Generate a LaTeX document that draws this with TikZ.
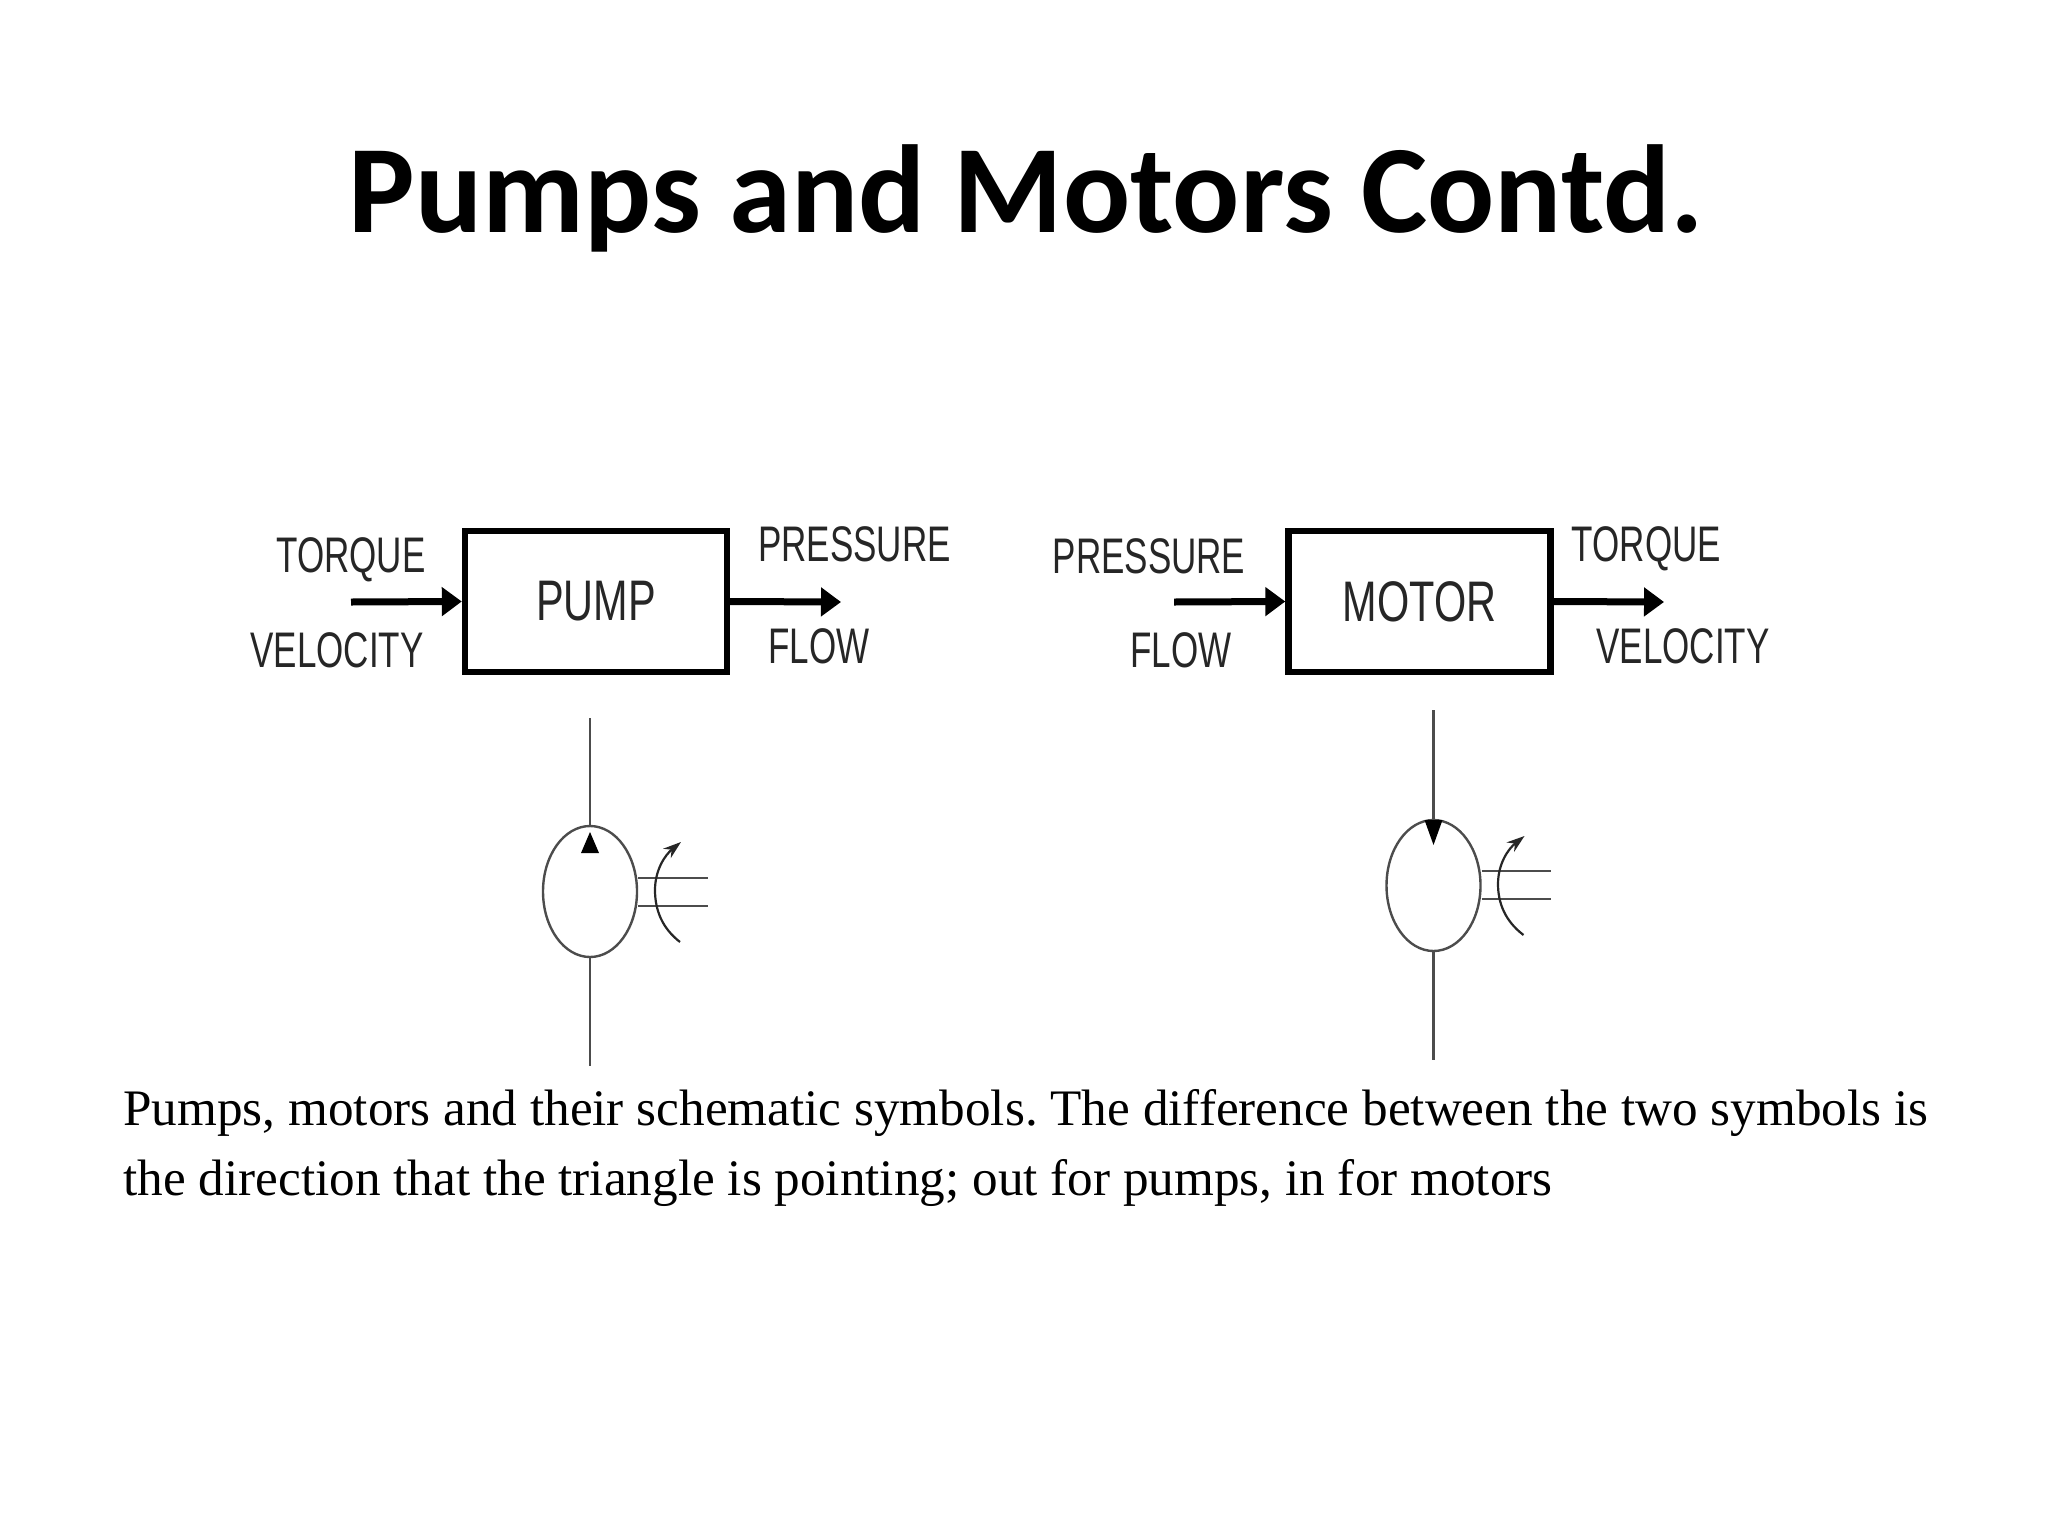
\documentclass[tikz,border=0pt]{standalone}
\usepackage{fontspec}
\usepackage{tikz}
\usetikzlibrary{arrows.meta, shapes.geometric}
\newfontfamily\titlefont{Carlito}
\newfontfamily\bodyfont{Liberation Serif}
\newfontfamily\blockfont[FakeStretch=0.725]{Liberation Sans}
\newfontfamily\labelfont[FakeStretch=0.7]{Liberation Sans}
\tikzset{
  blockbox/.style={draw, line width=3.2pt, minimum width=131pt, minimum height=70.5pt, inner sep=0pt,
    font=\blockfont\fontsize{28.6}{30}\selectfont, text=black!85},
  flowlabel/.style={anchor=base, inner sep=0pt, font=\labelfont\fontsize{25}{26}\selectfont, text=black!85},
  flowarrow/.style={line width=3.5pt, -{Triangle[length=10pt,width=14pt]}},
  symbody/.style={draw=black!70, line width=1.2pt, shape=ellipse, minimum width=47pt, minimum height=65.5pt, inner sep=0pt},
  symline/.style={draw=black!70, line width=1.2pt},
  sweep/.style={draw=black!85, line width=1.1pt, -{Stealth[length=9pt,width=6pt]}},
  bodyline/.style={anchor=base west, inner sep=0pt, font=\bodyfont\fontsize{25.6}{30}\selectfont}
}
\begin{document}
\frenchspacing
\begin{tikzpicture}[x=0.5pt,y=-0.5pt]
\useasboundingbox (0,0) rectangle (2048,1536);
% Title
\node[anchor=base, inner sep=0pt, font=\titlefont\bfseries\fontsize{62.6}{70}\selectfont] (title) at (1026,232) {Pumps and Motors Contd.};
% Pump block
\node[blockbox] (pump) at (596,601.5) {PUMP};
\coordinate (pumpin) at (351,602);
\coordinate (pumpout) at (841,602);
\draw[flowarrow] (pumpin)--(pump.west);
\draw[flowarrow] (pump.east)--(pumpout);
\node[flowlabel] (pumptorque) at (351,572) {TORQUE};
\node[flowlabel] (pumpvelocity) at (337,667) {VELOCITY};
\node[flowlabel] (pumppressure) at (854.5,561) {PRESSURE};
\node[flowlabel] (pumpflow) at (819,663) {FLOW};
% Motor block
\node[blockbox] (motor) at (1419.5,601.5) {MOTOR};
\coordinate (motorin) at (1174,602);
\coordinate (motorout) at (1664,602);
\draw[flowarrow] (motorin)--(motor.west);
\draw[flowarrow] (motor.east)--(motorout);
\node[flowlabel] (motorpressure) at (1149,573) {PRESSURE};
\node[flowlabel] (motorflow) at (1181,667) {FLOW};
\node[flowlabel] (motortorque) at (1646.5,561) {TORQUE};
\node[flowlabel] (motorvelocity) at (1683,663) {VELOCITY};
% Pump symbol
\node[symbody] (pumpsym) at (590,891.5) {};
\coordinate (pumptop) at (590,718);
\coordinate (pumpbot) at (590,1066);
\draw[symline] (pumptop)--(pumpsym.north);
\draw[symline] (pumpsym.south)--(pumpbot);
\fill[black] (590,832)--(599,853)--(581,853)--cycle;
\coordinate (pumpshafta) at (708,878);
\coordinate (pumpshaftb) at (708,906);
\draw[symline] (pumpsym.east |- pumpshafta)--(pumpshafta);
\draw[symline] (pumpsym.east |- pumpshaftb)--(pumpshaftb);
\draw[sweep] (680,942) .. controls (662,928) and (655,910) .. (655,890) .. controls (655,870) and (665,855) .. (681,842);
% Motor symbol
\node[symbody] (motorsym) at (1433.5,885.5) {};
\coordinate (motortop) at (1433.5,710);
\coordinate (motorbot) at (1433.5,1060);
\draw[symline] (motortop)--(motorsym.north);
\draw[symline] (motorsym.south)--(motorbot);
\fill[black] (1433.5,845)--(1442.5,820)--(1424.5,820)--cycle;
\coordinate (motorshafta) at (1551,871);
\coordinate (motorshaftb) at (1551,899);
\draw[symline] (motorsym.east |- motorshafta)--(motorshafta);
\draw[symline] (motorsym.east |- motorshaftb)--(motorshaftb);
\draw[sweep] (1523.5,935) .. controls (1505,921) and (1498,903) .. (1498,884) .. controls (1498,864) and (1508,849) .. (1524.5,836);
% Caption
\node[bodyline] (captiona) at (123,1125) {Pumps, motors and their schematic symbols. The difference between the two symbols is};
\node[bodyline] (captionb) at (123,1195.5) {the direction that the triangle is pointing; out for pumps, in for motors};
\end{tikzpicture}
\end{document}
